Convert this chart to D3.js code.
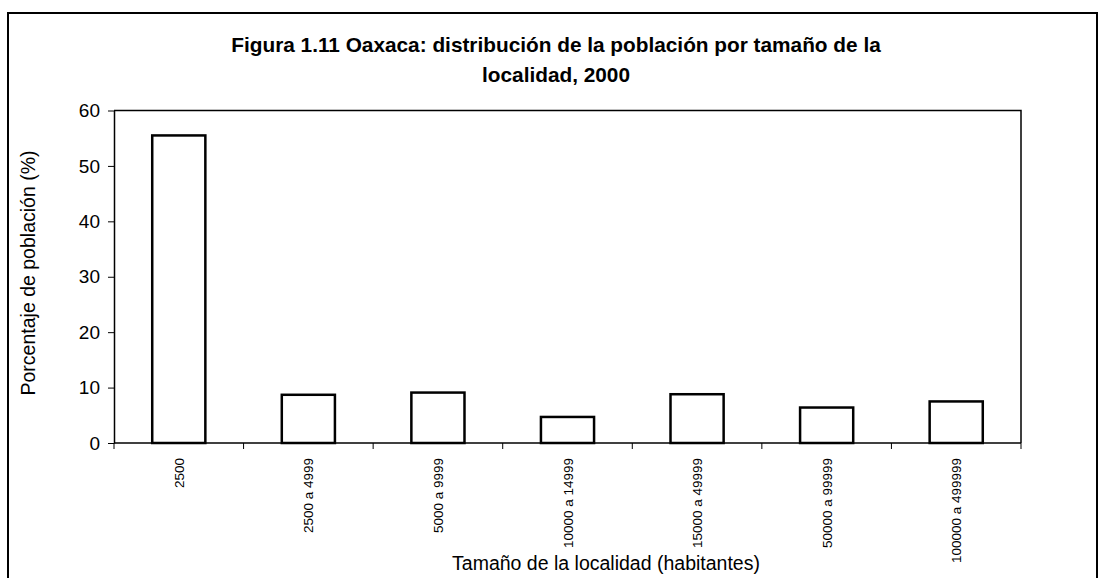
<!DOCTYPE html>
<html>
<head>
<meta charset="utf-8">
<script src="https://cdn.jsdelivr.net/npm/d3@7"></script>
<style>
  body { margin: 0; background: #fff; }
  text { font-family: "Liberation Sans", Arial, sans-serif; fill: #000; }
</style>
</head>
<body>
<svg id="chart" width="1099" height="578"></svg>
<script>
// datos
const categorias = ["2500", "2500 a 4999", "5000 a 9999", "10000 a 14999",
                    "15000 a 49999", "50000 a 99999", "100000 a 499999"];
const porcentajes = [55.5, 8.7, 9.1, 4.7, 8.8, 6.4, 7.5];
const ticksY = [0, 10, 20, 30, 40, 50, 60];

const svg = d3.select("#chart");
const margin = { left: 114, right: 1021, top: 110.5, bottom: 443 };

// marco exterior
svg.append("rect")
    .attr("x", 8).attr("y", 13)
    .attr("width", 1089).attr("height", 600)
    .attr("fill", "none").attr("stroke", "#000").attr("stroke-width", 2);

// título
const titulo = svg.append("text")
    .attr("text-anchor", "middle")
    .style("font-size", "20.8px").style("font-weight", "bold");
titulo.append("tspan").attr("x", 556).attr("y", 52)
    .text("Figura 1.11 Oaxaca: distribución de la población por tamaño de la");
titulo.append("tspan").attr("x", 556).attr("y", 82)
    .text("localidad, 2000");

const x = d3.scaleBand()
    .domain(categorias)
    .range([margin.left, margin.right])
    .paddingInner(0.59)
    .paddingOuter(0.295);

const y = d3.scaleLinear()
    .domain([0, 60])
    .range([margin.bottom, margin.top]);

// borde del área de trazado (arriba y derecha)
svg.append("path")
    .attr("d", `M${margin.left},${margin.top}H${margin.right}V${margin.bottom}`)
    .attr("fill", "none").attr("stroke", "#000").attr("stroke-width", 1.5);

// barras
svg.selectAll(".barra")
    .data(porcentajes)
    .enter()
    .append("rect")
    .attr("class", "barra")
    .attr("x", (d, i) => x(categorias[i]))
    .attr("y", d => y(d))
    .attr("width", x.bandwidth())
    .attr("height", d => y(0) - y(d))
    .attr("fill", "#fff")
    .attr("stroke", "#000")
    .attr("stroke-width", 2.5);

// eje Y
const ejeY = svg.append("g")
    .attr("transform", `translate(${margin.left},0)`)
    .call(d3.axisLeft(y).tickValues(ticksY).tickSize(6).tickPadding(8).tickSizeOuter(0));
ejeY.selectAll("text").style("font-size", "19px");
ejeY.select(".domain").attr("stroke-width", 1.5);

// eje X: marcas entre categorías
const limites = d3.range(categorias.length + 1).map(i => margin.left + i * x.step());
const ejeX = svg.append("g");
ejeX.append("line")
    .attr("x1", margin.left).attr("x2", margin.right)
    .attr("y1", margin.bottom).attr("y2", margin.bottom)
    .attr("stroke", "#000").attr("stroke-width", 1.5);
ejeX.selectAll(".marca")
    .data(limites)
    .enter()
    .append("line")
    .attr("x1", d => d).attr("x2", d => d)
    .attr("y1", margin.bottom).attr("y2", margin.bottom + 6)
    .attr("stroke", "#000");

// etiquetas rotadas
svg.selectAll(".etiqueta")
    .data(categorias)
    .enter()
    .append("text")
    .attr("class", "etiqueta")
    .attr("transform", d => `translate(${x(d) + x.bandwidth() / 2 + 5},${margin.bottom + 15}) rotate(-90)`)
    .attr("text-anchor", "end")
    .style("font-size", "13.5px")
    .text(d => d);

// títulos de ejes
svg.append("text")
    .attr("transform", `translate(35,273) rotate(-90)`)
    .attr("text-anchor", "middle")
    .style("font-size", "19.5px")
    .text("Porcentaje de población (%)");

svg.append("text")
    .attr("x", 606).attr("y", 570)
    .attr("text-anchor", "middle")
    .style("font-size", "19.5px")
    .text("Tamaño de la localidad (habitantes)");
</script>
</body>
</html>
